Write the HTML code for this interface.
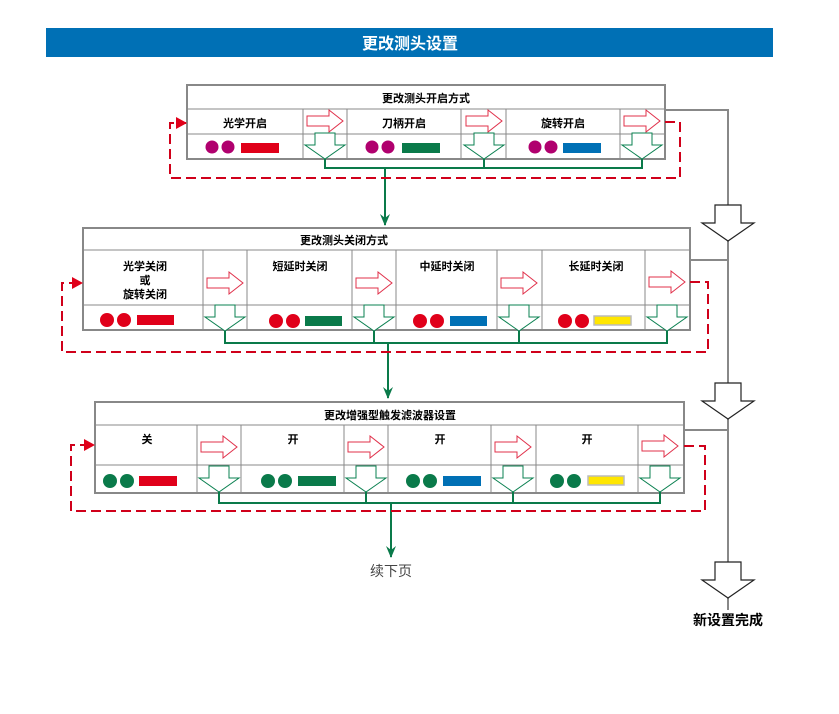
<!DOCTYPE html>
<html><head><meta charset="utf-8"><style>
body{margin:0;background:#fff;}
svg text{font-family:"Liberation Sans","Noto Sans CJK SC",sans-serif;}
</style></head><body>
<svg width="839" height="709" viewBox="0 0 839 709" xmlns="http://www.w3.org/2000/svg">
<defs>
<path id="ra" d="M-18,-5 H4 V-11 L18,0 L4,11 V5 H-18 Z" fill="#fff" stroke="#e0304a" stroke-width="1"/>
<path id="da" d="M-10,-13 H10 V-1 H20 L0,13 L-20,-1 H-10 Z" fill="#fff" stroke="#0a8050" stroke-width="1"/>
<path id="ba" d="M-13,-18 H13 V0 H26 L0,18 L-26,0 H-13 Z" fill="#fff" stroke="#222" stroke-width="1.2"/>
<marker id="mr" markerWidth="11" markerHeight="12" refX="10" refY="6" orient="auto" markerUnits="userSpaceOnUse"><path d="M0,0 L11,6 L0,12 Z" fill="#e0001a"/></marker>
<marker id="mg" markerWidth="10" markerHeight="12" refX="5" refY="11" orient="0" markerUnits="userSpaceOnUse"><path d="M0,0 L5,12 L10,0 L5,4 Z" fill="#0a7a4a"/></marker>
</defs>
<rect x="46" y="28" width="727" height="29" fill="#0070b5"/>
<text x="410" y="49" fill="#fff" font-size="16" font-weight="bold" text-anchor="middle">更改测头设置</text>

<g stroke="#888" stroke-width="2" fill="none">
<polyline points="665,110 728,110 728,610"/>
<line x1="690" y1="260" x2="728" y2="260"/>
<line x1="684" y1="430" x2="728" y2="430"/>
</g>
<use href="#ba" x="728" y="223"/>
<use href="#ba" x="728" y="401"/>
<use href="#ba" x="728" y="580"/>
<text x="728" y="625" font-size="14" font-weight="bold" text-anchor="middle">新设置完成</text>

<g stroke="#888" stroke-width="1" fill="none">
<line x1="187" y1="109" x2="665" y2="109"/><line x1="187" y1="134" x2="665" y2="134"/>
<line x1="303" y1="109" x2="303" y2="159"/><line x1="347" y1="109" x2="347" y2="159"/>
<line x1="461" y1="109" x2="461" y2="159"/><line x1="506" y1="109" x2="506" y2="159"/>
<line x1="620" y1="109" x2="620" y2="159"/>
</g>
<rect x="187" y="85" width="478" height="74" fill="none" stroke="#888" stroke-width="2"/>
<g font-size="11" font-weight="bold" text-anchor="middle">
<text x="426" y="102">更改测头开启方式</text>
<text x="245" y="127">光学开启</text><text x="404" y="127">刀柄开启</text><text x="563" y="127">旋转开启</text>
</g>
<use href="#ra" x="325" y="121"/><use href="#ra" x="484" y="121"/><use href="#ra" x="642" y="121"/>
<use href="#da" x="325" y="146"/><use href="#da" x="484" y="146"/><use href="#da" x="642" y="146"/>
<g fill="#b0006e"><circle cx="212" cy="147" r="6.5"/><circle cx="228" cy="147" r="6.5"/><circle cx="372" cy="147" r="6.5"/><circle cx="388" cy="147" r="6.5"/><circle cx="535" cy="147" r="6.5"/><circle cx="551" cy="147" r="6.5"/></g>
<rect x="241" y="143" width="38" height="10" fill="#e0001a"/><rect x="402" y="143" width="38" height="10" fill="#0a7a4a"/><rect x="563" y="143" width="38" height="10" fill="#0070b5"/>
<g stroke="#0a7a4a" stroke-width="2" fill="none">
<polyline points="325,159 325,168 642,168 642,159"/><line x1="484" y1="159" x2="484" y2="168"/>
<line x1="385" y1="168" x2="385" y2="225" marker-end="url(#mg)"/>
</g>
<polyline points="665,122 680,122 680,178 170,178 170,123 186,123" fill="none" stroke="#d0001a" stroke-width="2" stroke-dasharray="10,5" marker-end="url(#mr)"/>

<g stroke="#888" stroke-width="1" fill="none">
<line x1="83" y1="250" x2="690" y2="250"/><line x1="83" y1="305" x2="690" y2="305"/>
<line x1="203" y1="250" x2="203" y2="330"/><line x1="247" y1="250" x2="247" y2="330"/>
<line x1="352" y1="250" x2="352" y2="330"/><line x1="396" y1="250" x2="396" y2="330"/>
<line x1="497" y1="250" x2="497" y2="330"/><line x1="542" y1="250" x2="542" y2="330"/>
<line x1="645" y1="250" x2="645" y2="330"/>
</g>
<rect x="83" y="228" width="607" height="102" fill="none" stroke="#888" stroke-width="2"/>
<g font-size="11" font-weight="bold" text-anchor="middle">
<text x="344" y="244">更改测头关闭方式</text>
<text x="145" y="270">光学关闭</text><text x="145" y="284">或</text><text x="145" y="298">旋转关闭</text>
<text x="300" y="270">短延时关闭</text><text x="447" y="270">中延时关闭</text><text x="596" y="270">长延时关闭</text>
</g>
<use href="#ra" x="225" y="283"/><use href="#ra" x="374" y="283"/><use href="#ra" x="519" y="283"/><use href="#ra" x="667" y="282"/>
<use href="#da" x="225" y="318"/><use href="#da" x="374" y="318"/><use href="#da" x="519" y="318"/><use href="#da" x="667" y="318"/>
<g fill="#e0001a"><circle cx="107" cy="320" r="7"/><circle cx="124" cy="320" r="7"/><circle cx="276" cy="321" r="7"/><circle cx="293" cy="321" r="7"/><circle cx="420" cy="321" r="7"/><circle cx="437" cy="321" r="7"/><circle cx="565" cy="321" r="7"/><circle cx="582" cy="321" r="7"/></g>
<rect x="137" y="315" width="37" height="10" fill="#e0001a"/><rect x="305" y="316" width="37" height="10" fill="#0a7a4a"/><rect x="450" y="316" width="37" height="10" fill="#0070b5"/><rect x="594" y="316" width="37" height="9" fill="#ffe600" stroke="#bbb" stroke-width="1.5"/>
<g stroke="#0a7a4a" stroke-width="2" fill="none">
<polyline points="225,331 225,343 667,343 667,331"/><line x1="374" y1="331" x2="374" y2="343"/><line x1="519" y1="331" x2="519" y2="343"/>
<line x1="388" y1="343" x2="388" y2="398" marker-end="url(#mg)"/>
</g>
<polyline points="690,282 708,282 708,352 62,352 62,283 82,283" fill="none" stroke="#d0001a" stroke-width="2" stroke-dasharray="10,5" marker-end="url(#mr)"/>

<g stroke="#888" stroke-width="1" fill="none">
<line x1="95" y1="425" x2="684" y2="425"/><line x1="95" y1="465" x2="684" y2="465"/>
<line x1="197" y1="425" x2="197" y2="493"/><line x1="241" y1="425" x2="241" y2="493"/>
<line x1="344" y1="425" x2="344" y2="493"/><line x1="388" y1="425" x2="388" y2="493"/>
<line x1="491" y1="425" x2="491" y2="493"/><line x1="536" y1="425" x2="536" y2="493"/>
<line x1="638" y1="425" x2="638" y2="493"/>
</g>
<rect x="95" y="402" width="589" height="91" fill="none" stroke="#888" stroke-width="2"/>
<g font-size="11" font-weight="bold" text-anchor="middle">
<text x="390" y="419">更改增强型触发滤波器设置</text>
<text x="147" y="443">关</text><text x="293" y="443">开</text><text x="440" y="443">开</text><text x="587" y="443">开</text>
</g>
<use href="#ra" x="219" y="447"/><use href="#ra" x="366" y="447"/><use href="#ra" x="513" y="447"/><use href="#ra" x="660" y="446"/>
<use href="#da" x="219" y="479"/><use href="#da" x="366" y="479"/><use href="#da" x="513" y="479"/><use href="#da" x="660" y="479"/>
<g fill="#0a7a4a"><circle cx="110" cy="481" r="7"/><circle cx="127" cy="481" r="7"/><circle cx="268" cy="481" r="7"/><circle cx="285" cy="481" r="7"/><circle cx="413" cy="481" r="7"/><circle cx="430" cy="481" r="7"/><circle cx="557" cy="481" r="7"/><circle cx="574" cy="481" r="7"/></g>
<rect x="139" y="476" width="38" height="10" fill="#e0001a"/><rect x="298" y="476" width="38" height="10" fill="#0a7a4a"/><rect x="443" y="476" width="38" height="10" fill="#0070b5"/><rect x="588" y="476" width="36" height="9" fill="#ffe600" stroke="#bbb" stroke-width="1.5"/>
<g stroke="#0a7a4a" stroke-width="2" fill="none">
<polyline points="219,492 219,503 660,503 660,492"/><line x1="366" y1="492" x2="366" y2="503"/><line x1="513" y1="492" x2="513" y2="503"/>
<line x1="391" y1="503" x2="391" y2="557" marker-end="url(#mg)"/>
</g>
<text x="391" y="576" font-size="14" fill="#444" text-anchor="middle">续下页</text>
<polyline points="684,446 705,446 705,511 71,511 71,445 94,445" fill="none" stroke="#d0001a" stroke-width="2" stroke-dasharray="10,5" marker-end="url(#mr)"/>
</svg>
</body></html>
